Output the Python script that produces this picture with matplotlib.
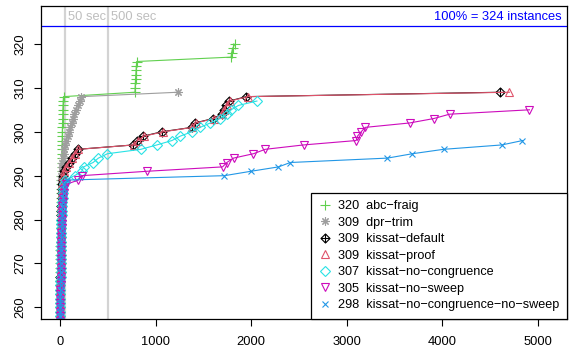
import numpy as np
import matplotlib
matplotlib.use('Agg')
import matplotlib.pyplot as plt
from matplotlib.path import Path
from matplotlib.lines import Line2D

plt.rcParams['font.family'] = ['Liberation Sans', 'DejaVu Sans']

# ---------------- data ----------------
solvers = ['abc−fraig', 'dpr−trim', 'kissat−default', 'kissat−proof',
           'kissat−no−congruence', 'kissat−no−sweep',
           'kissat−no−congruence−no−sweep']
solved = [320, 309, 309, 309, 307, 305, 298]

# run times (seconds), sorted; the k-th time is for the (last - n + k)-th solved instance
times_abc_fraig = [0.5, 0.6, 0.7, 0.8, 0.9, 1.0, 1.1, 1.2, 1.4, 1.5, 1.7, 1.9, 2.1, 2.3,
                   2.5, 2.8, 3, 3.3, 3.6, 4, 4.4, 4.8, 5.2, 5.7, 6.2, 6.8, 7.4, 8, 8.7, 9.4,
                   10, 11, 12, 13,
                   14, 15, 16, 17, 18, 19, 20, 21, 22, 23, 24, 25, 26, 27, 28, 30, 32, 35,
                   783, 785, 787, 789, 792, 795, 798, 802,
                   1790, 1795, 1805, 1832]
times_dpr_trim = [0.5, 0.6, 0.7, 0.8, 0.9, 1.0, 1.1, 1.2, 1.3, 1.5, 1.6, 1.8, 2.0, 2.2, 2.4,
                  2.6, 2.8, 3.0, 3.3, 3.6, 3.9, 4.2, 4.5, 4.9, 5.3, 5.7, 6.2, 6.7, 7.2,
                  8, 9, 10, 11, 12, 14, 16, 20, 27, 35, 43, 52, 65, 80, 95, 107, 120, 132,
                  146, 162, 185, 205, 222,
                  1233]
times_kissat_default = [0.8, 1, 1.2, 1.4, 1.6, 1.8, 2, 2.3, 2.6, 2.9, 3.2, 3.5, 3.9, 4.3, 4.7,
                        5.2, 5.7, 6.2, 6.8, 7.4, 8, 8.7, 9.5, 10.3, 11.2, 12.2, 13.3, 14.5,
                        16, 18, 20, 23, 27, 32,
                        40, 60, 90, 125, 155, 185,
                        765, 800, 870, 1065,
                        1380, 1410, 1600,
                        1690, 1715, 1740, 1770,
                        1950,
                        4607]
times_kissat_proof = [0.9, 1.1, 1.3, 1.5, 1.7, 1.9, 2.1, 2.4, 2.7, 3.0, 3.3, 3.6, 4.0, 4.4, 4.8,
                      5.3, 5.8, 6.3, 6.9, 7.5, 8.1, 8.8, 9.6, 10.4, 11.3, 12.3, 13.4, 14.7,
                      16.2, 18.3, 20.5, 23.5, 27.5, 33,
                      42, 62, 92, 128, 158, 190,
                      770, 810, 880, 1080,
                      1385, 1420, 1610,
                      1695, 1720, 1745, 1780,
                      1965,
                      4705]
times_kissat_no_congruence = [1, 1.2, 1.4, 1.6, 1.8, 2, 2.3, 2.6, 2.9, 3.2, 3.6, 4, 4.5, 5, 5.5,
                              6, 6.6, 7.2, 8, 9, 10, 11, 12, 13.5, 15, 17, 19, 22, 25, 29, 34,
                              40, 55,
                              150, 228, 245, 345, 400, 495,
                              845, 1012, 1170, 1257, 1379, 1466, 1571, 1675, 1750, 1790,
                              1867, 2060]
times_kissat_no_sweep = [1, 1.2, 1.4, 1.7, 2, 2.3, 2.6, 3, 3.4, 3.8, 4.3, 4.8, 5.4, 6, 6.7, 7.5,
                         8.3, 9.2, 10.2, 11.3, 12.5, 14, 15.5, 17, 19, 21, 24, 27, 31, 36, 45,
                         60,
                         190, 225, 908, 1700, 1745, 1815, 2024, 2147,
                         2548, 3099, 3113, 3152, 3194, 3658, 3910, 4077, 4914]
times_kissat_no_congruence_no_sweep = [1.2, 1.5, 1.8, 2.1, 2.4, 2.8, 3.2, 3.6, 4.1, 4.6, 5.2,
                                       5.8, 6.5, 7.2, 8, 9, 10, 11, 12.5, 14, 15.5, 17, 19,
                                       21, 23, 25, 27, 30, 33, 36, 40, 45,
                                       70, 1720, 1997, 2286, 2410, 3427, 3689, 4014, 4625,
                                       4841]
all_times = [times_abc_fraig, times_dpr_trim, times_kissat_default, times_kissat_proof,
             times_kissat_no_congruence, times_kissat_no_sweep,
             times_kissat_no_congruence_no_sweep]

total_instances = 324
marks_sec = [50, 500]
x_ticks = [0, 1000, 2000, 3000, 4000, 5000]
y_ticks = [260, 270, 280, 290, 300, 310, 320]

# ---------------- styles ----------------
colors = ['#61D04F', '#9E9E9E', '#000000', '#DF536B', '#28E2E5', '#CD0BBC', '#2297E6']

# diamond with plus (R pch 9)
dp_verts = [(0, 1), (1, 0), (0, -1), (-1, 0), (0, 1),
            (0, 1), (0, -1), (-1, 0), (1, 0)]
dp_codes = [Path.MOVETO, Path.LINETO, Path.LINETO, Path.LINETO, Path.CLOSEPOLY,
            Path.MOVETO, Path.LINETO, Path.MOVETO, Path.LINETO]
diamond_plus = Path(dp_verts, dp_codes)

markers = ['+', (8, 2, 0), diamond_plus, '^', 'D', 'v', 'x']
msizes = [6.5, 6.0, 6.5, 5.8, 4.6, 5.8, 5.0]

fig = plt.figure(figsize=(5.74, 3.49), dpi=100)
ax = fig.add_axes([40.7 / 574, 1 - 319 / 349, (566.7 - 40.7) / 574, (319 - 6) / 349])

for xm in marks_sec:
    ax.axvline(xm, color='#D3D3D3', lw=1.6, zorder=1)
ax.axhline(total_instances, color='#0000FF', lw=0.9, zorder=1)

handles = []
for name, n, t, c, m, ms in zip(solvers, solved, all_times, colors, markers, msizes):
    y = np.arange(n - len(t) + 1, n + 1)
    ax.plot(t, y, color=c, lw=0.8, marker=m, ms=ms, mfc='none', mec=c, mew=0.8,
            zorder=2)
    handles.append(Line2D([], [], ls='none', marker=m, ms=ms, mfc='none', mec=c, mew=0.8))

ax.set_xlim(-204, 5304)
ax.set_ylim(257.36, 328.64)
ax.set_xticks(x_ticks)
ax.set_yticks(y_ticks)
ax.set_xticklabels([str(v) for v in x_ticks])
ax.set_yticklabels([str(v) for v in y_ticks], rotation=90, va='center')
ax.tick_params(axis='both', direction='out', length=5, width=0.8, labelsize=9.3)
ax.tick_params(axis='x', pad=7)
ax.tick_params(axis='y', pad=5)
for s in ax.spines.values():
    s.set_linewidth(0.9)

ax.annotate('50 sec', xy=(marks_sec[0], 326.1), xytext=(2.5, 0), textcoords='offset points',
            color='#BEBEBE', fontsize=9.3, va='center', ha='left')
ax.annotate('500 sec', xy=(marks_sec[1], 326.1), xytext=(2.5, 0), textcoords='offset points',
            color='#BEBEBE', fontsize=9.3, va='center', ha='left')
ax.annotate('100%% = %d instances' % total_instances, xy=(1, 326.1),
            xycoords=('axes fraction', 'data'), xytext=(-4, 0), textcoords='offset points',
            color='#0000FF', fontsize=9.3, va='center', ha='right')

labels = ['%d  %s' % (n, name) for n, name in zip(solved, solvers)]
leg = ax.legend(handles, labels, loc='lower right', borderaxespad=0, fontsize=9.1,
                frameon=True, fancybox=False, edgecolor='black', framealpha=1,
                handlelength=1.0, handletextpad=0.5, labelspacing=0.36, borderpad=0.6)
leg.get_frame().set_linewidth(0.9)

fig.savefig('out.png', dpi=100)
